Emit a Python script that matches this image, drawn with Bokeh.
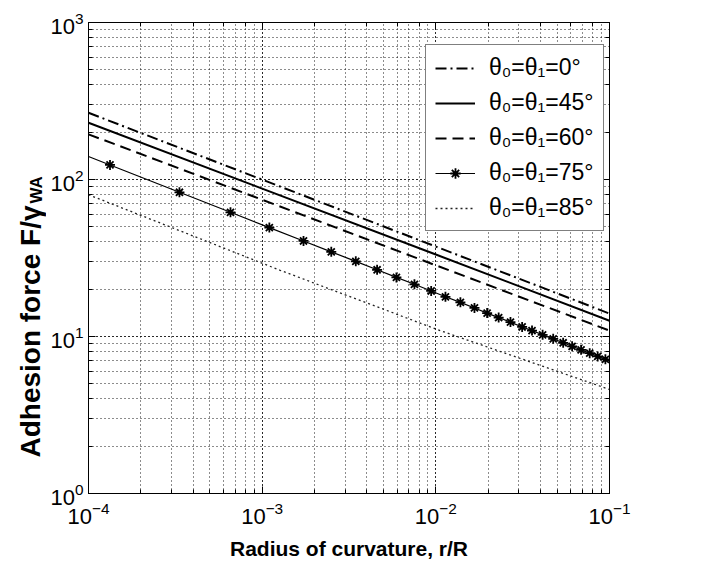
from math import pi
from bokeh.plotting import figure
from bokeh.layouts import row
from bokeh.models import (Range1d, LogAxis, Legend, LegendItem, CustomJSTickFormatter)
from bokeh.core.properties import value
from bokeh.embed import file_html
from bokeh.resources import INLINE

# ---------------- data ----------------
r_line = [1e-4, 1e-3, 1e-2, 1e-1]
f_theta0 = [266, 99.8, 37.4, 14.0]
f_theta45 = [230, 87.5, 33.3, 12.6]
f_theta60 = [194, 74.3, 28.4, 10.9]

r_theta75_ends = [1e-4, 1e-1]
f_theta75_ends = [140, 7.0]
r_theta75_marks = [1.33e-4, 3.34e-4, 6.57e-4, 1.10e-3, 1.73e-3, 2.50e-3, 3.46e-3,
                   4.59e-3, 5.93e-3, 7.53e-3, 9.40e-3, 1.136e-2, 1.385e-2, 1.669e-2,
                   1.974e-2, 2.30e-2, 2.69e-2, 3.14e-2, 3.58e-2, 4.12e-2, 4.74e-2,
                   5.41e-2, 6.09e-2, 6.86e-2, 7.69e-2, 8.55e-2, 9.47e-2]
f_theta75_marks = [123.8, 82.9, 61.8, 49.4, 40.6, 34.6, 30.1, 26.6, 23.8, 21.5, 19.5,
                   17.9, 16.5, 15.2, 14.1, 13.2, 12.35, 11.5, 10.9, 10.25, 9.66,
                   9.12, 8.66, 8.22, 7.83, 7.47, 7.15]

r_theta85 = [1e-4, 1.27e-3, 1.06e-2, 1e-1]
f_theta85 = [80, 26.4, 10.9, 4.6]

legend_labels = ["θ₀=θ₁=0°", "θ₀=θ₁=45°", "θ₀=θ₁=60°", "θ₀=θ₁=75°", "θ₀=θ₁=85°"]
x_label = "Radius of curvature, r/R"
y_label_main = "Adhesion force F/γ"
y_label_sub = "WA"

FONT = "Liberation Sans"
H = 566
LW = 46            # width of the strip holding the y-axis title
TOP, BOTTOM = 22, 73

# ---------------- y-axis title strip (pixel coordinates, y measured from top) ----------------
lab = figure(width=LW, height=H, x_range=Range1d(0, LW),
             y_range=Range1d(BOTTOM, H - TOP),
             output_backend="svg", toolbar_location=None,
             x_axis_location=None, y_axis_location=None,
             min_border_left=0, min_border_right=0,
             min_border_top=TOP, min_border_bottom=BOTTOM)
lab.grid.visible = False
lab.outline_line_color = None
lab.background_fill_color = "white"
lab.border_fill_color = "white"
lab.text(x=[30], y=[H - 205], text=[y_label_main], angle=pi / 2,
         text_align="right", text_baseline="middle", text_font=value(FONT),
         text_font_size="28px", text_font_style="bold", text_color="black")
lab.text(x=[36], y=[H - 203], text=[y_label_sub], angle=pi / 2,
         text_align="left", text_baseline="middle", text_font=value(FONT),
         text_font_size="17px", text_font_style="bold", text_color="black")

# ---------------- main plot ----------------
p = figure(width=702 - LW, height=H, x_axis_type="log", y_axis_type="log",
           x_range=Range1d(1e-4, 1e-1), y_range=Range1d(1, 1000),
           output_backend="svg", toolbar_location=None,
           min_border_left=42, min_border_right=93, min_border_top=TOP,
           min_border_bottom=BOTTOM)
p.background_fill_color = "white"
p.border_fill_color = "white"
p.outline_line_color = "black"
p.outline_line_width = 1

for g in p.grid:
    g.grid_line_color = "black"
    g.grid_line_dash = "1 3"
    g.grid_line_width = 1
    g.grid_line_alpha = 0.9
    g.minor_grid_line_color = "black"
    g.minor_grid_line_dash = "1 3"
    g.minor_grid_line_width = 1
    g.minor_grid_line_alpha = 0.9

for ax in (p.xaxis[0], p.yaxis[0]):
    ax.major_tick_in = 7
    ax.major_tick_out = 0
    ax.minor_tick_in = 4
    ax.minor_tick_out = 0
    ax.axis_line_color = "black"
    ax.major_tick_line_color = "black"
    ax.minor_tick_line_color = "black"
    ax.major_label_text_font = FONT
    ax.major_label_text_font_size = "22px"
    ax.major_label_text_color = "black"

p.xaxis.major_label_standoff = 8
p.yaxis.major_label_standoff = 5
p.xaxis.axis_label = x_label
p.xaxis.axis_label_text_font = FONT
p.xaxis.axis_label_text_font_size = "21px"
p.xaxis.axis_label_text_font_style = "bold"
p.xaxis.axis_label_text_color = "black"
p.xaxis.axis_label_standoff = 10

blank = CustomJSTickFormatter(code="return ''")
for side in ("right", "above"):
    ax = LogAxis(major_tick_in=7, major_tick_out=0, minor_tick_in=4, minor_tick_out=0,
                 formatter=blank, major_label_standoff=0,
                 major_label_text_font_size="1px")
    p.add_layout(ax, side)

r0 = p.line(r_line, f_theta0, line_color="black", line_width=2, line_dash="11 4 2 4")
r45 = p.line(r_line, f_theta45, line_color="black", line_width=2)
r60 = p.line(r_line, f_theta60, line_color="black", line_width=2, line_dash="11 6")
r75_x = [r_theta75_ends[0]] + r_theta75_marks + [r_theta75_ends[1]]
r75_y = [f_theta75_ends[0]] + f_theta75_marks + [f_theta75_ends[1]]
r75l = p.line(r75_x, r75_y, line_color="black", line_width=1.2)
r75m = p.scatter(r_theta75_marks, f_theta75_marks, marker="asterisk", size=10,
                 line_color="black", line_width=1.8)
r85 = p.line(r_theta85, f_theta85, line_color="#222222", line_width=1.3, line_dash="2 3")

legend = Legend(items=[
    LegendItem(label=legend_labels[0], renderers=[r0]),
    LegendItem(label=legend_labels[1], renderers=[r45]),
    LegendItem(label=legend_labels[2], renderers=[r60]),
    LegendItem(label=legend_labels[3], renderers=[r75l, r75m]),
    LegendItem(label=legend_labels[4], renderers=[r85]),
], location=(337, 262))
legend.label_text_font = FONT
legend.label_text_font_size = "23px"
legend.label_text_color = "black"
legend.glyph_width = 40
legend.glyph_height = 26
legend.label_height = 26
legend.spacing = 8
legend.padding = 9
legend.margin = 0
legend.label_standoff = 14
legend.border_line_color = "black"
legend.border_line_width = 1
legend.background_fill_color = "white"
legend.background_fill_alpha = 1
p.add_layout(legend, "center")

layout = row(lab, p, spacing=0)
open("out.html", "w").write(file_html(layout, INLINE))
